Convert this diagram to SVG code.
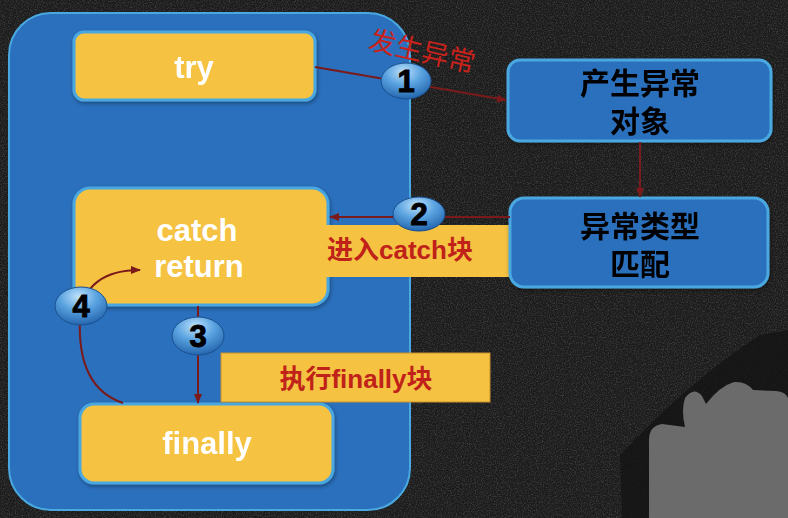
<svg xmlns="http://www.w3.org/2000/svg" width="788" height="518" viewBox="0 0 788 518">
<defs>
<filter id="noise" x="0" y="0" width="100%" height="100%">
<feTurbulence type="fractalNoise" baseFrequency="0.85" numOctaves="2" seed="3" result="t"/>
<feColorMatrix in="t" type="matrix" values="0 0 0 0 0.6  0 0 0 0 0.6  0 0 0 0 0.6  0 0 0 1.4 -0.6"/>
</filter>
<radialGradient id="badge" cx="0.45" cy="0.25" r="0.8">
<stop offset="0" stop-color="#bfe2fb"/>
<stop offset="0.45" stop-color="#5aa3e0"/>
<stop offset="1" stop-color="#1d5ea8"/>
</radialGradient>
<filter id="shadow" x="-10%" y="-10%" width="130%" height="130%">
<feDropShadow dx="1" dy="2" stdDeviation="2" flood-color="#000" flood-opacity="0.35"/>
</filter>
<marker id="arr" markerWidth="10" markerHeight="10" refX="9" refY="5" orient="auto" markerUnits="userSpaceOnUse">
<path d="M0,1 L10,5 L0,9 Z" fill="#7a1a1a"/>
</marker>
</defs>
<style>
.node{fill:#f5c242;stroke:#4aa8e0;stroke-width:3}
.rnode{fill:#2b70bd;stroke:#4aa8e0;stroke-width:3}
.wt{font-family:"Liberation Sans",Arial,sans-serif;font-weight:bold;font-size:31px;fill:#ffffff;text-anchor:middle}
.bt{font-family:"Liberation Sans","Noto Sans CJK SC",sans-serif;font-weight:bold;font-size:30px;fill:#000;text-anchor:middle}
.lbl{font-family:"Liberation Sans","Noto Sans CJK SC",sans-serif;font-weight:bold;font-size:26px;fill:#c0221a;text-anchor:middle}
.conn{stroke:#7a1a1a;stroke-width:2;fill:none}
.bdg{fill:url(#badge);stroke:#1a4f8f;stroke-width:1}
.num{font-family:"Liberation Sans",Arial,sans-serif;font-weight:bold;font-size:31px;fill:#000;stroke:#000;stroke-width:1;text-anchor:middle}
</style>
<rect width="788" height="518" fill="#1c1c1c"/>
<rect width="788" height="518" filter="url(#noise)" opacity="0.35"/>
<path d="M760,335 L788,330 L788,518 L622,518 L620,455 Q690,380 760,335 Z" fill="#141414" opacity="0.8"/>
<path d="M649,518 L649,440 Q649,426 662,424 L685,427 Q681,410 685,398 Q694,386 702,396 L706,404 Q720,386 734,382 Q746,381 753,390 L776,391 Q786,392 788,398 L788,518 Z" fill="#6b6b6b"/>

<g id="container">
<rect x="9" y="13" width="401" height="497" rx="42" fill="#2b70bd" stroke="#4aa8e0" stroke-width="2"/>
</g>

<g id="try" filter="url(#shadow)">
<rect class="node" x="74" y="32" width="241" height="68" rx="10"/>
<text class="wt" x="194" y="78">try</text>
</g>

<g id="catch" filter="url(#shadow)">
<rect class="node" x="74" y="188" width="254" height="117" rx="16"/>
</g>

<g id="label2">
<rect x="325" y="225" width="188" height="52" fill="#f5c242"/>
<text class="lbl" x="400" y="259">进入catch块</text>
</g>
<g id="catchText">
<text class="wt" x="197" y="241">catch</text>
<text class="wt" x="199" y="277">return</text>
</g>

<g id="finally" filter="url(#shadow)">
<rect class="node" x="80" y="404" width="253" height="79" rx="14"/>
<text class="wt" x="207" y="454">finally</text>
</g>

<g id="label3">
<rect x="221" y="353" width="269" height="49" fill="#f5c242" stroke="#c8902a" stroke-width="1"/>
<text class="lbl" x="356" y="388">执行finally块</text>
</g>

<g id="object" filter="url(#shadow)">
<rect class="rnode" x="508" y="60" width="263" height="81" rx="12"/>
<text class="bt" x="640" y="94">产生异常</text>
<text class="bt" x="640" y="132">对象</text>
</g>

<g id="match" filter="url(#shadow)">
<rect class="rnode" x="510" y="198" width="258" height="89" rx="14"/>
<text class="bt" x="640" y="237">异常类型</text>
<text class="bt" x="640" y="275">匹配</text>
</g>

<g id="connectors">
<path class="conn" d="M315,67 L506,100" marker-end="url(#arr)"/>
<path class="conn" d="M640,142 L640,197" marker-end="url(#arr)"/>
<path class="conn" d="M510,217 L330,217" marker-end="url(#arr)"/>
<path class="conn" d="M198,306 L198,403" marker-end="url(#arr)"/>
<path class="conn" d="M123,403 C90,392 78,360 80,318 C82,285 105,270 140,270" marker-end="url(#arr)"/>
</g>

<text x="422" y="61" transform="rotate(13 422 52)" font-family="'Liberation Sans','Noto Sans CJK SC',sans-serif" font-size="27" fill="#c8221c" text-anchor="middle">发生异常</text>

<g id="badge1"><ellipse class="bdg" cx="406" cy="81" rx="25" ry="18"/><text class="num" x="406" y="92">1</text></g>
<g id="badge2"><ellipse class="bdg" cx="419" cy="214" rx="26" ry="17"/><text class="num" x="419" y="225">2</text></g>
<g id="badge3"><ellipse class="bdg" cx="198" cy="336" rx="26" ry="19"/><text class="num" x="198" y="347">3</text></g>
<g id="badge4"><ellipse class="bdg" cx="81" cy="306" rx="26" ry="19"/><text class="num" x="81" y="317">4</text></g>
</svg>
